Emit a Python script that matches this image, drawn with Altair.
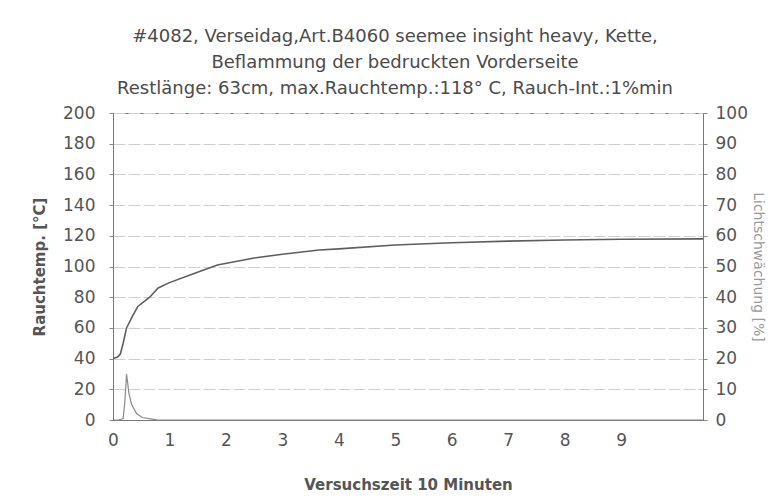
import altair as alt
import pandas as pd

# Temperature curve (left axis, °C)
temp_t = [0, 0.08, 0.13, 0.18, 0.24, 0.35, 0.44, 0.65, 0.8, 1.0, 1.4, 1.85, 2.5, 3.0, 3.65, 4.0, 5.0, 6.0, 7.0, 8.0, 9.0, 10.45]
temp_v = [40, 41, 43, 50, 60, 68, 74, 80, 86, 89.5, 95, 101, 105.5, 108, 110.7, 111.5, 114, 115.5, 116.5, 117.3, 117.8, 118]

# Light attenuation (right axis, %)
light_t = [0, 0.1, 0.18, 0.21, 0.24, 0.26, 0.28, 0.33, 0.42, 0.52, 0.69, 0.8, 10.45]
light_v = [0, 0, 0.5, 6, 15, 12, 8.8, 5, 2, 0.8, 0.3, 0, 0]

x_ticks = [0, 1, 2, 3, 4, 5, 6, 7, 8, 9]
left_ticks = list(range(0, 201, 20))
right_ticks = list(range(0, 101, 10))

title_lines = [
    "#4082, Verseidag,Art.B4060 seemee insight heavy, Kette,",
    "Beflammung der bedruckten Vorderseite",
    "Restlänge: 63cm, max.Rauchtemp.:118° C, Rauch-Int.:1%min",
]

df_temp = pd.DataFrame({"t": temp_t, "v": temp_v})
df_light = pd.DataFrame({"t": light_t, "v": light_v})

FONT = "DejaVu Sans"
TXT = "#555555"

x_enc = alt.X(
    "t:Q",
    scale=alt.Scale(domain=[0, 10.45], nice=False, zero=False),
    axis=alt.Axis(
        values=x_ticks, format="d", title="Versuchszeit 10 Minuten", grid=False,
        labelFontSize=17, titleFontSize=15, titleFontWeight="bold",
        labelFlush=False, labelPadding=12, titlePadding=29, tickSize=0,
        domainColor="#777",
    ),
)

temp = alt.Chart(df_temp).mark_line(color="#5e5e5e", strokeWidth=1.6).encode(
    x=x_enc,
    y=alt.Y(
        "v:Q",
        scale=alt.Scale(domain=[0, 200], nice=False),
        axis=alt.Axis(
            values=left_ticks, title="Rauchtemp. [°C]", orient="left",
            grid=True, gridColor="#cfcfcf", gridDash=[12, 3],
            labelFontSize=17, titleFontSize=15, titleFontWeight="bold",
            tickSize=4, labelPadding=14, titlePadding=15,
            domainColor="#777", tickColor="#888",
        ),
    ),
)

light = alt.Chart(df_light).mark_line(color="#8a8a8a", strokeWidth=1.2).encode(
    x=alt.X("t:Q", scale=alt.Scale(domain=[0, 10.45], nice=False, zero=False)),
    y=alt.Y(
        "v:Q",
        scale=alt.Scale(domain=[0, 100], nice=False),
        axis=alt.Axis(
            values=right_ticks, title="Lichtschwächung [%]", orient="right",
            grid=False, labelFontSize=17, titleFontSize=14, titleFontWeight="normal",
            titleColor="#9a9a9a", tickSize=4, labelPadding=8, titlePadding=3,
            domainColor="#777", tickColor="#888",
        ),
    ),
)

chart = (
    alt.layer(temp, light)
    .resolve_scale(y="independent")
    .properties(
        width=590,
        height=307,
        padding={"left": 24, "top": 20, "right": 3, "bottom": 0},
        title=alt.TitleParams(
            text=title_lines, fontSize=18, lineHeight=26, fontWeight="normal",
            font=FONT, color="#4a4a4a", anchor="middle", dx=-13, offset=6,
        ),
    )
    .configure(font=FONT)
    .configure_axis(labelColor=TXT, titleColor=TXT, labelFont=FONT, titleFont=FONT)
    .configure_view(stroke="#777", strokeWidth=1)
)

chart.save("out.html", embed_options={"renderer": "svg", "actions": False})
